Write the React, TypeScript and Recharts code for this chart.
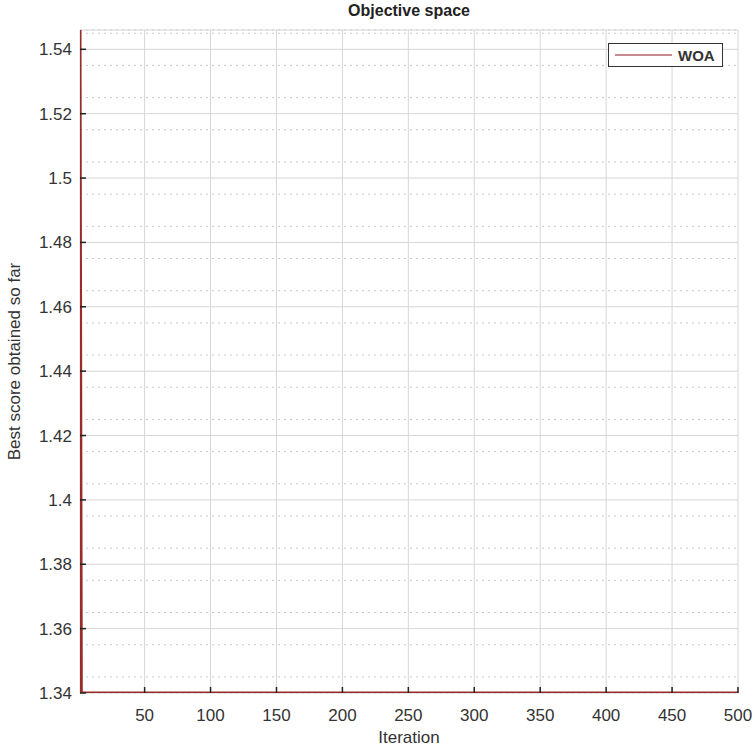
import React from "react";
import { CartesianGrid, Label, Legend, Line, LineChart, XAxis, YAxis } from "recharts";

const iterations = [1, 2, 50, 100, 200, 300, 400, 500];
const bestScore = [1.546, 1.34, 1.34, 1.34, 1.34, 1.34, 1.34, 1.34];
const xTicks = [50, 100, 150, 200, 250, 300, 350, 400, 450, 500];
const yTicks = [1.34, 1.36, 1.38, 1.4, 1.42, 1.44, 1.46, 1.48, 1.5, 1.52, 1.54];
const yMinorTicks = [
  1.345, 1.35, 1.355, 1.365, 1.37, 1.375, 1.385, 1.39, 1.395, 1.405, 1.41, 1.415,
  1.425, 1.43, 1.435, 1.445, 1.45, 1.455, 1.465, 1.47, 1.475, 1.485, 1.49, 1.495,
  1.505, 1.51, 1.515, 1.525, 1.53, 1.535, 1.545,
];

const data = iterations.map((it, i) => ({ it, score: bestScore[i] }));

const FONT = "'Liberation Sans', Arial, sans-serif";
const LINE = "#9a2b2b";
const yDomain = [1.34, 1.546];

const fmt = (v: number) => String(Number(v.toFixed(2)));

const LeftTick = (props: any) => {
  const { x, y, payload } = props;
  return (
    <g>
      <line x1={x + 8} x2={x + 14} y1={y} y2={y} stroke="#222" strokeWidth={1.5} />
      <text x={x} y={y} dy={6} textAnchor="end" fontSize={17} fill="#333" fontFamily={FONT}>
        {fmt(payload.value)}
      </text>
    </g>
  );
};

const BottomTick = (props: any) => {
  const { x, y, payload } = props;
  return (
    <g>
      <line x1={x} x2={x} y1={y - 8} y2={y - 14} stroke="#222" strokeWidth={1.5} />
      <text x={x} y={y} dy={20} textAnchor="middle" fontSize={17} fill="#333" fontFamily={FONT}>
        {payload.value}
      </text>
    </g>
  );
};

const TopTick = (props: any) => {
  const { x, y } = props;
  return <line x1={x} x2={x} y1={y + 8} y2={y + 14} stroke="#222" strokeWidth={1.5} />;
};

const RightTick = (props: any) => {
  const { x, y } = props;
  return <line x1={x - 8} x2={x - 14} y1={y} y2={y} stroke="#222" strokeWidth={1.5} />;
};

const renderLegend = () => (
  <div
    style={{
      display: "flex",
      alignItems: "center",
      border: "1.5px solid #333",
      background: "#fff",
      width: 115,
      height: 24,
      boxSizing: "border-box",
      paddingLeft: 6,
      fontFamily: FONT,
      fontSize: 15,
      fontWeight: "bold",
      color: "#333",
    }}
  >
    <span style={{ display: "inline-block", width: 57, height: 2, background: "#c98a90", marginRight: 6 }} />
    WOA
  </div>
);

export default function App() {
  return (
    <div style={{ position: "relative", width: 755, height: 749, background: "#fff" }}>
      <style>{"body{margin:0}"}</style>
      <div
        style={{
          position: "absolute",
          top: 2,
          left: 80,
          width: 658,
          textAlign: "center",
          fontFamily: FONT,
          fontWeight: "bold",
          fontSize: 16,
          color: "#222",
        }}
      >
        Objective space
      </div>
      <LineChart width={755} height={749} data={data} margin={{ top: 30, right: 17, left: 0, bottom: 0 }}>
        <CartesianGrid yAxisId="minor" vertical={false} stroke="#c8c8c8" strokeDasharray="2 4" />
        <CartesianGrid horizontal={true} vertical={true} stroke="#d6d6d6" />
        <XAxis
          dataKey="it"
          type="number"
          domain={[1, 500]}
          ticks={xTicks}
          allowDataOverflow
          height={56}
          tickLine={false}
          tickSize={0}
          tickMargin={8}
          tick={<BottomTick />}
          axisLine={false}
        >
          <Label value="Iteration" position="insideBottom" offset={6} style={{ fontSize: 17, fill: "#333", fontFamily: FONT }} />
        </XAxis>
        <XAxis
          xAxisId="top"
          orientation="top"
          type="number"
          domain={[1, 500]}
          ticks={xTicks}
          allowDataOverflow
          height={0}
          tickLine={false}
          tickSize={0}
          tickMargin={8}
          tick={<TopTick />}
          axisLine={{ stroke: "#444", strokeWidth: 2 }}
        />
        <YAxis
          type="number"
          domain={yDomain}
          ticks={yTicks}
          allowDataOverflow
          width={80}
          tickLine={false}
          tickSize={0}
          tickMargin={8}
          tick={<LeftTick />}
          axisLine={false}
        >
          <Label
            value="Best score obtained so far"
            angle={-90}
            position="insideLeft"
            offset={14}
            style={{ textAnchor: "middle", fontSize: 17, fill: "#333", fontFamily: FONT }}
          />
        </YAxis>
        <YAxis
          yAxisId="right"
          orientation="right"
          type="number"
          domain={yDomain}
          ticks={yTicks}
          allowDataOverflow
          width={0}
          tickLine={false}
          tickSize={0}
          tickMargin={8}
          tick={<RightTick />}
          axisLine={{ stroke: "#222", strokeWidth: 1.5 }}
        />
        <YAxis yAxisId="minor" type="number" domain={yDomain} ticks={yMinorTicks} allowDataOverflow hide />
        <Legend
          layout="horizontal"
          verticalAlign="middle"
          align="center"
          content={renderLegend}
          wrapperStyle={{ top: 43, left: 608, width: 115 }}
        />
        <Line
          type="linear"
          dataKey="score"
          stroke={LINE}
          strokeWidth={3}
          dot={false}
          isAnimationActive={false}
        />
      </LineChart>
    </div>
  );
}
